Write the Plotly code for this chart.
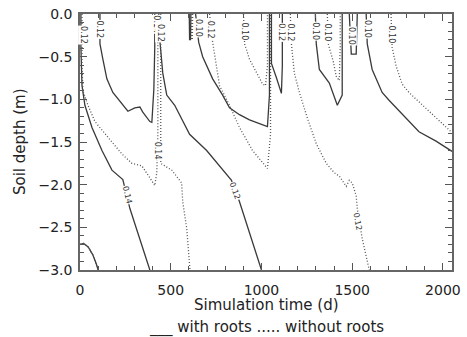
import plotly.graph_objects as go

# ---------------- data ----------------
x_range = [0, 2050]
y_range = [-3.0, 0.0]
x_ticks = [0, 500, 1000, 1500, 2000]
y_ticks = [0.0, -0.5, -1.0, -1.5, -2.0, -2.5, -3.0]

# "with roots" contours (solid)
root_014_a_t = [5, 5, 11, 27, 66, 121, 176, 236, 275, 385]
root_014_a_d = [0.0, -0.39, -0.84, -1.07, -1.33, -1.60, -1.83, -1.94, -2.28, -3.0]

root_012_a_t = [110, 110, 126, 148, 181, 236, 264, 302, 330, 346, 385, 396, 401, 407, 412, 412]
root_012_a_d = [0.0, -0.35, -0.53, -0.76, -0.92, -1.07, -1.14, -1.10, -1.09, -1.15, -1.26, -1.27, -1.10, -0.88, -0.39, 0.0]

root_012_b_t = [434, 440, 456, 478, 522, 604, 698, 786, 835, 879, 1000]
root_012_b_d = [0.0, -0.31, -0.69, -0.95, -1.07, -1.41, -1.60, -1.83, -1.95, -2.20, -3.0]

root_012_stub_t = [602, 604, 609, 611]
root_012_stub_d = [0.0, -0.30, -0.30, 0.0]

root_010_a_t = [637, 654, 676, 731, 786, 824, 879, 934, 1033, 1044, 1044]
root_010_a_d = [0.0, -0.33, -0.50, -0.76, -0.95, -1.10, -1.18, -1.24, -1.32, -0.95, 0.0]

root_012_c_t = [1055, 1055, 1083, 1110, 1115, 1115]
root_012_c_d = [0.0, -0.58, -0.75, -0.93, -0.61, 0.0]

root_010_b_t = [1297, 1302, 1319, 1374, 1418, 1445, 1445]
root_010_b_d = [0.0, -0.35, -0.65, -0.81, -1.07, -0.95, 0.0]

root_010_c_t = [1484, 1495, 1522, 1528]
root_010_c_d = [0.0, -0.47, -0.47, 0.0]

root_010_d_t = [1577, 1583, 1610, 1665, 1703, 1742, 1797, 1868, 1962, 2044, 2050]
root_010_d_d = [0.0, -0.35, -0.65, -0.92, -1.01, -1.10, -1.22, -1.38, -1.49, -1.60, -1.61]

root_deep_t = [0, 20, 45, 70, 90, 100]
root_deep_d = [-2.70, -2.69, -2.73, -2.82, -2.93, -3.0]

# "without roots" contours (dotted)
noroot_014_a_t = [11, 11, 16, 44, 82, 154, 231, 286, 341, 385, 412, 423, 429, 429]
noroot_014_a_d = [0.0, -0.61, -0.90, -1.07, -1.26, -1.44, -1.64, -1.75, -1.78, -1.92, -2.01, -1.86, -1.41, 0.0]

noroot_014_b_t = [445, 445, 467, 506, 560, 566, 588, 606]
noroot_014_b_d = [0.0, -1.75, -1.78, -1.83, -1.98, -2.20, -2.51, -3.0]

noroot_stub_t = [612, 614, 619, 621]
noroot_stub_d = [0.0, -0.30, -0.30, 0.0]

noroot_012_a_t = [714, 731, 769, 824, 879, 951, 1033, 1050, 1050]
noroot_012_a_d = [0.0, -0.33, -0.84, -1.07, -1.33, -1.60, -1.81, -1.41, 0.0]

noroot_010_a_t = [901, 907, 934, 973, 1006, 1022, 1033, 1033]
noroot_010_a_d = [0.0, -0.35, -0.53, -0.69, -0.82, -0.84, -0.61, 0.0]

noroot_012_b_t = [1159, 1165, 1181, 1209, 1253, 1302, 1357, 1401, 1429, 1467, 1484, 1500, 1522, 1528, 1555, 1594]
noroot_012_b_d = [0.0, -0.35, -0.69, -0.92, -1.22, -1.52, -1.75, -1.86, -1.90, -2.02, -1.95, -1.98, -2.13, -2.28, -2.63, -3.0]

noroot_010_b_t = [1363, 1368, 1396, 1412, 1429, 1434, 1434]
noroot_010_b_d = [0.0, -0.35, -0.56, -0.73, -0.78, -0.39, 0.0]

noroot_010_c_t = [1714, 1720, 1742, 1775, 1813, 1868, 1940, 2017, 2050]
noroot_010_c_d = [0.0, -0.39, -0.61, -0.82, -0.92, -1.03, -1.18, -1.33, -1.39]

# contour labels
label_text = ["0.12", "0.12", "0.14", "0.14", "0.14", "0.12", "0.12", "0.10", "0.12",
              "0.10", "0.12", "0.12", "0.10", "0.10", "0.10", "0.12", "0.10", "0.10"]
label_t = [18, 110, 258, 429, 424, 440, 852, 654, 720,
           907, 1110, 1159, 1300, 1363, 1500, 1530, 1583, 1714]
label_d = [-0.25, -0.18, -2.12, -1.60, -0.12, -0.22, -2.07, -0.16, -0.18,
           -0.20, -0.22, -0.22, -0.20, -0.22, -0.26, -2.43, -0.18, -0.24]
label_angle = [90, 90, 77, 90, 90, 90, 70, 90, 90,
               90, 90, 90, 90, 90, 90, 80, 90, 90]

solid_lines = [
    (root_014_a_t, root_014_a_d), (root_012_a_t, root_012_a_d),
    (root_012_b_t, root_012_b_d), (root_012_stub_t, root_012_stub_d),
    (root_010_a_t, root_010_a_d), (root_012_c_t, root_012_c_d),
    (root_010_b_t, root_010_b_d), (root_010_c_t, root_010_c_d),
    (root_010_d_t, root_010_d_d), (root_deep_t, root_deep_d),
]
dotted_lines = [
    (noroot_014_a_t, noroot_014_a_d), (noroot_014_b_t, noroot_014_b_d),
    (noroot_stub_t, noroot_stub_d), (noroot_012_a_t, noroot_012_a_d),
    (noroot_010_a_t, noroot_010_a_d), (noroot_012_b_t, noroot_012_b_d),
    (noroot_010_b_t, noroot_010_b_d), (noroot_010_c_t, noroot_010_c_d),
    (root_deep_t, root_deep_d),
]

# ---------------- figure ----------------
fig = go.Figure()
for t, d in solid_lines:
    fig.add_trace(go.Scatter(x=t, y=d, mode="lines", showlegend=False, hoverinfo="skip",
                             line=dict(color="#3a3a3a", width=1.3)))
for t, d in dotted_lines:
    fig.add_trace(go.Scatter(x=t, y=d, mode="lines", showlegend=False, hoverinfo="skip",
                             line=dict(color="#555555", width=1.3, dash="1px,2px")))

for txt, t, d, a in zip(label_text, label_t, label_d, label_angle):
    fig.add_annotation(x=t, y=d, text=txt, showarrow=False, textangle=a,
                       font=dict(family="DejaVu Sans", size=8, color="#333333"),
                       bgcolor="white", borderpad=0)

axis_common = dict(showline=True, linecolor="#666666", linewidth=1.5, mirror="allticks",
                   ticks="inside", ticklen=7, tickwidth=1, tickcolor="#555555",
                   showgrid=False, zeroline=False, ticklabeloverflow="allow",
                   tickfont=dict(family="DejaVu Sans", size=14, color="#222222"))

fig.update_xaxes(range=x_range, tickvals=x_ticks, ticktext=[str(v) for v in x_ticks],
                 minor=dict(dtick=100, ticks="inside", ticklen=4, tickcolor="#555555"),
                 ticklabelstandoff=6, **axis_common)
fig.update_yaxes(range=y_range, tickvals=y_ticks, tickformat=".1f",
                 minor=dict(dtick=0.1, ticks="inside", ticklen=4, tickcolor="#555555"),
                 ticklabelstandoff=3, **axis_common)

fig.add_annotation(xref="paper", yref="paper", x=0.5, y=0, yshift=-35, yanchor="middle",
                   text="Simulation time (d)", showarrow=False, borderpad=0,
                   font=dict(family="DejaVu Sans", size=15, color="#222222"))
fig.add_annotation(xref="paper", yref="paper", x=0, xshift=-60, y=0.5, xanchor="center",
                   text="Soil depth (m)", textangle=-90, showarrow=False,
                   font=dict(family="DejaVu Sans", size=15, color="#222222"))
fig.add_annotation(xref="paper", yref="paper", x=0.5, y=0, yshift=-57, yanchor="middle",
                   text="___ with roots ..... without roots", showarrow=False, borderpad=0,
                   font=dict(family="DejaVu Sans", size=15, color="#222222"))

fig.update_layout(width=467, height=337, margin=dict(l=80, r=13, t=6, b=67),
                  paper_bgcolor="white", plot_bgcolor="white")

fig.write_html("out.html")
